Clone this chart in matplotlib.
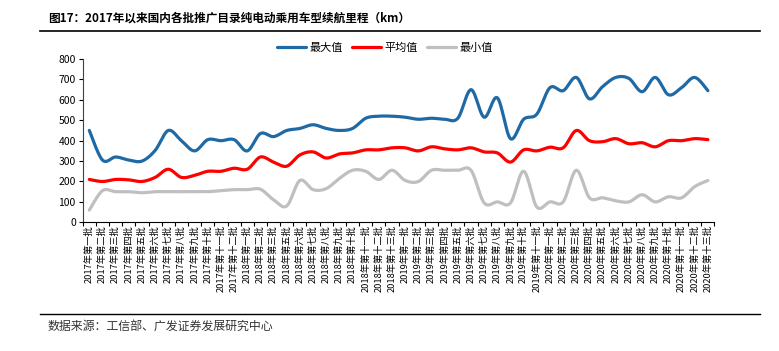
import numpy as np
import matplotlib
matplotlib.use("Agg")
import matplotlib.pyplot as plt
from matplotlib.lines import Line2D

plt.rcParams['font.family'] = ['Noto Sans CJK SC', 'DejaVu Sans']

cn_num = ["一", "二", "三", "四", "五", "六", "七", "八", "九", "十",
          "十一", "十二", "十三"]
batches_2017 = [1, 2, 3, 4, 5, 6, 7, 8, 9, 10, 11, 12]
batches_2018 = [1, 2, 3, 5, 6, 7, 8, 9, 10, 11, 12, 13]
batches_2019 = [1, 2, 3, 4, 5, 6, 7, 8, 9, 10, 11]
batches_2020 = [1, 2, 3, 4, 5, 6, 7, 8, 9, 10, 11, 12, 13]

labels = []
for year, bs in [(2017, batches_2017), (2018, batches_2018),
                 (2019, batches_2019), (2020, batches_2020)]:
    for b in bs:
        labels.append(f"{year}年第{cn_num[b - 1]}批")

max_vals = [450, 305, 320, 305, 300, 352, 450, 400, 350, 405, 400, 405,
            350, 435, 420, 450, 460, 478, 460, 450, 460, 510, 520, 520,
            515, 505, 510, 505, 510, 650, 515, 610, 410, 505, 530, 660,
            645, 710, 605, 665, 710, 705, 640, 710, 625, 660, 710, 645]
avg_vals = [210, 200, 210, 208, 200, 220, 260, 220, 230, 250, 250, 265,
            260, 320, 295, 275, 330, 345, 315, 335, 340, 355, 355, 365,
            365, 350, 370, 360, 355, 365, 345, 340, 295, 355, 350, 368,
            365, 450, 400, 395, 410, 385, 390, 370, 400, 400, 410, 405]
min_vals = [60, 155, 150, 150, 145, 150, 150, 150, 150, 150, 155, 160,
            160, 162, 110, 80, 205, 160, 165, 215, 255, 250, 210, 255,
            205, 200, 255, 255, 255, 255, 95, 100, 95, 250, 75, 100,
            100, 255, 120, 120, 105, 100, 135, 100, 125, 120, 175, 205]


def smooth(y, n=24):
    # bezier smoothing through every point, like the office "smoothed line"
    y = np.asarray(y, dtype=float)
    x = np.arange(len(y), dtype=float)
    px = np.concatenate([[x[0]], x, [x[-1]]])
    py = np.concatenate([[y[0]], y, [y[-1]]])
    xs, ys = [], []
    t = np.linspace(0, 1, n, endpoint=False)
    for i in range(1, len(px) - 2):
        x0, x1, x2, x3 = px[i - 1], px[i], px[i + 1], px[i + 2]
        y0, y1, y2, y3 = py[i - 1], py[i], py[i + 1], py[i + 2]
        cx1, cy1 = x1 + (x2 - x0) / 6, y1 + (y2 - y0) / 6
        cx2, cy2 = x2 - (x3 - x1) / 6, y2 - (y3 - y1) / 6
        a, b, c, d = (1 - t) ** 3, 3 * (1 - t) ** 2 * t, 3 * (1 - t) * t ** 2, t ** 3
        xs.append(a * x1 + b * cx1 + c * cx2 + d * x2)
        ys.append(a * y1 + b * cy1 + c * cy2 + d * y2)
    xs.append([x[-1]])
    ys.append([y[-1]])
    return np.concatenate(xs), np.concatenate(ys)


fig = plt.figure(figsize=(7.79, 3.51), dpi=100)
ax = fig.add_axes([0.1062, 0.3667, 0.811, 0.465])

series = [("最大值", max_vals, "#1f6aa5"),
          ("平均值", avg_vals, "#ff0000"),
          ("最小值", min_vals, "#bfbfbf")]
handles = []
for name, vals, col in series:
    sx, sy = smooth(vals)
    h, = ax.plot(sx, sy, color=col, lw=2.3, solid_capstyle="round", label=name)
    handles.append(h)

n = len(labels)
ax.set_xlim(-0.5, n - 0.5)
ax.set_ylim(0, 800)
ax.set_yticks(range(0, 801, 100))
ax.set_xticks(np.arange(-0.5, n, 1.0))
ax.set_xticklabels([])
ax.set_xticks(np.arange(n), minor=True)
ax.set_xticklabels(labels, minor=True, rotation=90, fontsize=6.7,
                   ha="center", va="top")
ax.tick_params(axis="x", which="major", length=3, direction="out", width=0.8)
ax.tick_params(axis="x", which="minor", length=0, pad=2)
ax.tick_params(axis="y", length=3, direction="out", width=0.8, labelsize=7.5, pad=2)
for s in ["top", "right"]:
    ax.spines[s].set_visible(False)
ax.spines["left"].set_color("#404040")
ax.spines["bottom"].set_color("#000000")

fig.legend(handles=handles, loc="center", bbox_to_anchor=(0.494, 0.863), ncol=3,
           frameon=False, fontsize=8, handlelength=2.6, handletextpad=0.35,
           columnspacing=0.8)

fig.text(0.0616, 0.949, "图17：2017年以来国内各批推广目录纯电动乘用车型续航里程（km）",
         fontsize=8.4, fontweight="bold", ha="left", va="center")
fig.add_artist(Line2D([0.051, 0.976], [0.9117, 0.9117], color="black", lw=1.2))
fig.add_artist(Line2D([0.051, 0.976], [0.1054, 0.1054], color="black", lw=1.0))
fig.text(0.0616, 0.071, "数据来源：工信部、广发证券发展研究中心",
         fontsize=8.6, color="#333333", ha="left", va="center")

fig.savefig("out.png", dpi=100)
plt.close(fig)
